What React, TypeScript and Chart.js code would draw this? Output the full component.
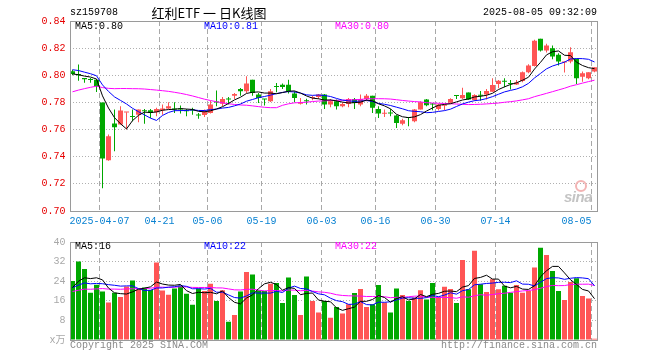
import React, { useEffect, useRef } from 'react';
import { Chart, registerables } from 'chart.js';
Chart.register(...registerables);

// ---------- DATA ----------
const dates = [
  '2025-03-28', '2025-03-31', '2025-04-01', '2025-04-02', '2025-04-03', '2025-04-07', '2025-04-08', '2025-04-09', '2025-04-10', '2025-04-11',
  '2025-04-14', '2025-04-15', '2025-04-16', '2025-04-17', '2025-04-18', '2025-04-21', '2025-04-22', '2025-04-23', '2025-04-24', '2025-04-25',
  '2025-04-28', '2025-04-29', '2025-04-30', '2025-05-06', '2025-05-07', '2025-05-08', '2025-05-09', '2025-05-12', '2025-05-13', '2025-05-14',
  '2025-05-15', '2025-05-16', '2025-05-19', '2025-05-20', '2025-05-21', '2025-05-22', '2025-05-23', '2025-05-26', '2025-05-27', '2025-05-28',
  '2025-05-29', '2025-05-30', '2025-06-03', '2025-06-04', '2025-06-05', '2025-06-06', '2025-06-09', '2025-06-10', '2025-06-11', '2025-06-12',
  '2025-06-13', '2025-06-16', '2025-06-17', '2025-06-18', '2025-06-19', '2025-06-20', '2025-06-23', '2025-06-24', '2025-06-25', '2025-06-26',
  '2025-06-27', '2025-06-30', '2025-07-01', '2025-07-02', '2025-07-03', '2025-07-04', '2025-07-07', '2025-07-08', '2025-07-09', '2025-07-10',
  '2025-07-11', '2025-07-14', '2025-07-15', '2025-07-16', '2025-07-17', '2025-07-18', '2025-07-21', '2025-07-22', '2025-07-23', '2025-07-24',
  '2025-07-25', '2025-07-28', '2025-07-29', '2025-07-30', '2025-07-31', '2025-08-01', '2025-08-04', '2025-08-05',
];

const openP = [
  0.803, 0.801, 0.798, 0.797, 0.7968, 0.780, 0.7374, 0.7645, 0.7637, 0.7725,
  0.7697, 0.771, 0.7738, 0.7742, 0.7728, 0.7742, 0.7755, 0.775, 0.775, 0.7738,
  0.7742, 0.7706, 0.7708, 0.7723, 0.7803, 0.7791, 0.7823, 0.785, 0.7899, 0.7882,
  0.7968, 0.7858, 0.7826, 0.7809, 0.7916, 0.7931, 0.7931, 0.7865, 0.7791, 0.781,
  0.7832, 0.784, 0.7858, 0.7784, 0.7809, 0.7772, 0.7789, 0.7826, 0.7784, 0.7826,
  0.785, 0.7752, 0.7716, 0.772, 0.7703, 0.7642, 0.7688, 0.7661, 0.7747, 0.7821,
  0.7785, 0.7752, 0.7775, 0.7798, 0.7848, 0.783, 0.7874, 0.7817, 0.785, 0.7859,
  0.7879, 0.7936, 0.7955, 0.7937, 0.7933, 0.7958, 0.8022, 0.8069, 0.8269, 0.8183,
  0.82, 0.8151, 0.8095, 0.8101, 0.8121, 0.799, 0.7978, 0.8027,
];
const highP = [
  0.804, 0.808, 0.798, 0.798, 0.797, 0.780, 0.7563, 0.7747, 0.7772, 0.7728,
  0.7747, 0.7747, 0.7752, 0.7752, 0.776, 0.7784, 0.7801, 0.7801, 0.7777, 0.7752,
  0.776, 0.7723, 0.7747, 0.7813, 0.7887, 0.784, 0.784, 0.787, 0.7907, 0.7993,
  0.7968, 0.787, 0.7826, 0.7899, 0.7944, 0.7939, 0.7968, 0.7882, 0.7833, 0.7828,
  0.785, 0.7863, 0.7863, 0.7826, 0.7821, 0.7801, 0.7833, 0.7833, 0.7858, 0.7863,
  0.785, 0.7772, 0.7747, 0.7752, 0.771, 0.7679, 0.7693, 0.7752, 0.7809, 0.7826,
  0.7796, 0.779, 0.7785, 0.783, 0.785, 0.7909, 0.7874, 0.786, 0.7884, 0.7899,
  0.7978, 0.7965, 0.7978, 0.7965, 0.7965, 0.8027, 0.8081, 0.8262, 0.8269, 0.8232,
  0.822, 0.8163, 0.8101, 0.8207, 0.8121, 0.8027, 0.8022, 0.8059,
];
const lowP = [
  0.800, 0.796, 0.7945, 0.7945, 0.7877, 0.7168, 0.737, 0.744, 0.7637, 0.760,
  0.7661, 0.7654, 0.7642, 0.7686, 0.7698, 0.771, 0.7752, 0.7723, 0.7718, 0.7698,
  0.771, 0.7679, 0.7693, 0.7718, 0.7772, 0.7772, 0.7784, 0.7826, 0.785, 0.787,
  0.785, 0.7796, 0.7777, 0.7804, 0.7875, 0.7899, 0.7865, 0.7801, 0.7784, 0.7784,
  0.7816, 0.7826, 0.7752, 0.7764, 0.7747, 0.7764, 0.7764, 0.7752, 0.7772, 0.7809,
  0.7723, 0.7686, 0.7693, 0.7698, 0.7612, 0.7632, 0.7625, 0.7654, 0.7747, 0.7772,
  0.7742, 0.774, 0.7743, 0.7795, 0.7825, 0.7825, 0.782, 0.7812, 0.7812, 0.7822,
  0.7879, 0.7904, 0.7911, 0.7896, 0.7928, 0.7948, 0.8015, 0.8064, 0.8175, 0.8168,
  0.8119, 0.8072, 0.802, 0.8089, 0.7936, 0.7953, 0.797, 0.8022,
];
const closeP = [
  0.801, 0.800, 0.797, 0.7965, 0.7919, 0.7387, 0.7551, 0.7617, 0.774, 0.7728,
  0.7693, 0.7747, 0.7735, 0.7723, 0.7752, 0.7755, 0.7772, 0.7747, 0.7747, 0.7735,
  0.774, 0.7703, 0.773, 0.7784, 0.780, 0.7826, 0.7821, 0.7863, 0.7882, 0.7939,
  0.787, 0.7833, 0.7821, 0.7882, 0.7914, 0.7914, 0.7882, 0.7833, 0.7801, 0.7809,
  0.7833, 0.7858, 0.7784, 0.7809, 0.7772, 0.7789, 0.7826, 0.7796, 0.7826, 0.785,
  0.776, 0.7718, 0.7718, 0.7718, 0.7649, 0.7669, 0.7686, 0.7747, 0.7801, 0.7779,
  0.7784, 0.7784, 0.778, 0.7825, 0.7847, 0.7854, 0.7822, 0.7854, 0.7849, 0.7884,
  0.7928, 0.796, 0.7953, 0.7936, 0.7946, 0.8022, 0.8072, 0.8254, 0.8183, 0.822,
  0.8138, 0.8101, 0.8096, 0.817, 0.7978, 0.8015, 0.8022, 0.8059,
];
const volume = [
  24.1, 32.0, 29.0, 19.3, 22.6, 19.8, 15.3, 19.3, 17.6, 21.8,
  24.3, 20.6, 21.4, 20.4, 31.6, 20.2, 18.5, 21.0, 22.1, 18.9,
  14.4, 21.0, 20.0, 23.0, 15.9, 20.3, 7.5, 10.2, 19.8, 27.8,
  26.7, 20.3, 20.0, 23.0, 23.3, 15.1, 25.5, 18.4, 10.2, 25.9,
  15.9, 11.2, 15.9, 9.1, 13.5, 10.8, 14.6, 19.2, 20.8, 13.5,
  14.6, 22.5, 15.3, 11.2, 21.0, 18.4, 15.9, 17.3, 20.3, 16.5,
  23.3, 17.7, 21.7, 20.8, 15.1, 32.7, 20.7, 36.4, 22.8, 19.6,
  24.8, 20.7, 22.1, 19.3, 22.5, 19.3, 20.0, 29.6, 37.7, 34.7,
  28.2, 20.0, 16.3, 23.7, 25.2, 18.0, 16.9, 0.5,
];
// estimated sessions before the visible window (needed by the moving averages)
const priorClose = [
  0.762, 0.765, 0.768, 0.766, 0.770, 0.772, 0.769, 0.771, 0.773, 0.772,
  0.776, 0.780, 0.784, 0.787, 0.789, 0.792, 0.795, 0.797, 0.801, 0.805,
  0.806, 0.809, 0.808, 0.807, 0.806, 0.803, 0.802, 0.800, 0.799,
];
const priorVolume = [
  17, 15, 21, 18, 16, 22, 19, 20, 17, 23,
  18, 21, 16, 20, 19, 22, 18, 17, 21, 20,
  22, 20, 23, 21, 21, 19, 22, 21, 20.9,
];

const xTickDates = ['2025-04-07', '2025-04-21', '2025-05-06', '2025-05-19', '2025-06-03', '2025-06-16', '2025-06-30', '2025-07-14', '2025-08-05'];
const xTickLabels = ['2025-04-07', '04-21', '05-06', '05-19', '06-03', '06-16', '06-30', '07-14', '08-05'];

const priceLegend = ['MA5:0.80', 'MA10:0.81', 'MA30:0.80'];
const volumeLegend = ['MA5:16', 'MA10:22', 'MA30:22'];

// ---------- STYLE ----------
const RED = '#ff5555';
const GREEN = '#00a800';
const MA5C = '#000000';
const MA10C = '#0000ff';
const MA30C = '#ff00ff';
const GRID = '#b0b0b0';
const FRAME = '#9a9a9a';
const MONO = '"Liberation Mono", "DejaVu Sans Mono", monospace';

function sma(prior: number[], vals: number[], n: number): number[] {
  const all = prior.concat(vals);
  const off = prior.length;
  return vals.map((_, i) => {
    let s = 0;
    for (let k = off + i - n + 1; k <= off + i; k++) s += all[k];
    return s / n;
  });
}

const framePlugin = {
  id: 'frame',
  afterDatasetsDraw(chart: any) {
    const { left, top, right, bottom } = chart.chartArea;
    const ctx = chart.ctx;
    ctx.save();
    ctx.strokeStyle = FRAME;
    ctx.lineWidth = 1;
    const l = Math.round(left);
    const t = Math.round(top);
    ctx.strokeRect(l + 0.5, t + 0.5, Math.round(right) - l - 1, Math.round(bottom) - t);
    ctx.restore();
  },
};

const xLabelPlugin = {
  id: 'xlabels',
  afterDraw(chart: any) {
    const xs = chart.scales.x;
    const ctx = chart.ctx;
    const half = (xs.getPixelForValue(1) - xs.getPixelForValue(0)) / 2;
    ctx.save();
    ctx.font = `10px ${MONO}`;
    ctx.fillStyle = '#0a82d2';
    ctx.textBaseline = 'middle';
    ctx.textAlign = 'left';
    xTickDates.forEach((d, k) => {
      const idx = dates.indexOf(d);
      const text = xTickLabels[k];
      const gx = xs.getPixelForValue(idx) - half;
      const w = ctx.measureText(text).width;
      let lx = gx - w / 2;
      const maxRight = chart.chartArea.right - 6;
      if (lx + w > maxRight) lx = maxRight - w;
      if (lx < chart.chartArea.left) lx = chart.chartArea.left;
      ctx.fillText(text, lx, chart.chartArea.bottom + 10.5);
    });
    ctx.restore();
  },
};

const tickIdxSet = new Set(xTickDates.map((d) => dates.indexOf(d)));

function xScaleOpts(height: number) {
  return {
    type: 'category' as const,
    offset: true,
    afterFit: (s: any) => { s.height = height; },
    ticks: { display: false, autoSkip: false },
    grid: {
      offset: true,
      drawTicks: false,
      lineWidth: 1,
      color: (ctx: any) => (tickIdxSet.has(ctx.index) ? '#a8a8a8' : 'rgba(0,0,0,0)'),
    },
    border: { display: false, dash: [5, 3] },
  };
}

export default function App() {
  const mainRef = useRef<HTMLCanvasElement>(null);
  const volRef = useRef<HTMLCanvasElement>(null);

  useEffect(() => {
    const colors = closeP.map((c, i) => (c > openP[i] ? RED : GREEN));
    const ma5 = sma(priorClose, closeP, 5);
    const ma10 = sma(priorClose, closeP, 10);
    const ma30 = sma(priorClose, closeP, 30);
    const vma5 = sma(priorVolume, volume, 5);
    const vma10 = sma(priorVolume, volume, 10);
    const vma30 = sma(priorVolume, volume, 30);

    const lineDs = (label: string, data: number[], color: string, order: number) => ({
      type: 'line' as const,
      label,
      data,
      borderColor: color,
      borderWidth: 1,
      pointRadius: 0,
      pointHoverRadius: 0,
      tension: 0,
      fill: false,
      order,
    });

    const main = new Chart(mainRef.current as HTMLCanvasElement, {
      type: 'bar',
      data: {
        labels: dates,
        datasets: [
          lineDs('MA5', ma5, MA5C, 0),
          lineDs('MA10', ma10, MA10C, 1),
          lineDs('MA30', ma30, MA30C, 2),
          {
            type: 'bar',
            label: 'body',
            data: openP.map((o, i) => [o, closeP[i]]),
            backgroundColor: colors,
            barThickness: 5,
            minBarLength: 1,
            grouped: false,
            inflateAmount: 0,
            borderWidth: 0,
            order: 3,
          } as any,
          {
            type: 'bar',
            label: 'wick',
            data: lowP.map((l, i) => [l, highP[i]]),
            backgroundColor: colors,
            barThickness: 1,
            grouped: false,
            inflateAmount: 0,
            borderWidth: 0,
            order: 4,
          } as any,
        ],
      },
      options: {
        responsive: false,
        animation: false,
        devicePixelRatio: 1,
        events: [],
        layout: { padding: { left: 0, right: 62.5, top: 21, bottom: 0 } },
        plugins: { legend: { display: false }, tooltip: { enabled: false }, title: { display: false } },
        scales: {
          x: xScaleOpts(21) as any,
          y: {
            min: 0.7,
            max: 0.84,
            afterFit: (s: any) => { s.width = 69.5; },
            ticks: {
              stepSize: 0.02,
              color: '#e60000',
              font: { family: MONO, size: 10 },
              padding: 4,
              callback: (v: any) => Number(v).toFixed(2),
            },
            grid: { color: GRID, drawTicks: false, lineWidth: 1 },
            border: { display: false, dash: [1, 2] },
          },
        },
      },
      plugins: [framePlugin, xLabelPlugin],
    });

    const vol = new Chart(volRef.current as HTMLCanvasElement, {
      type: 'bar',
      data: {
        labels: dates,
        datasets: [
          lineDs('MA5', vma5, MA5C, 0),
          lineDs('MA10', vma10, MA10C, 1),
          lineDs('MA30', vma30, MA30C, 2),
          {
            type: 'bar',
            label: 'volume',
            data: volume,
            backgroundColor: colors,
            barThickness: 5,
            grouped: false,
            inflateAmount: 0,
            borderWidth: 0,
            order: 3,
          } as any,
        ],
      },
      options: {
        responsive: false,
        animation: false,
        devicePixelRatio: 1,
        events: [],
        layout: { padding: { left: 0, right: 62.5, top: 9, bottom: 0 } },
        plugins: { legend: { display: false }, tooltip: { enabled: false }, title: { display: false } },
        scales: {
          x: xScaleOpts(20) as any,
          y: {
            min: 0,
            max: 40,
            afterFit: (s: any) => { s.width = 69.5; },
            ticks: {
              stepSize: 8,
              color: '#a8a8a8',
              font: { family: `${MONO}, "Noto Sans CJK SC"`, size: 10 },
              padding: 4,
              callback: (v: any) => (Number(v) === 0 ? 'x万' : String(v)),
            },
            grid: {
              drawTicks: false,
              lineWidth: 1,
              color: (ctx: any) => (ctx.tick && (ctx.tick.value === 0 || ctx.tick.value === 40) ? 'rgba(0,0,0,0)' : GRID),
            },
            border: { display: false, dash: [1, 2] },
          },
        },
      },
      plugins: [framePlugin],
    });

    return () => {
      main.destroy();
      vol.destroy();
    };
  }, []);

  const t = (s: string, left: number, top: number, color: string, extra: any = {}) => (
    <div
      style={{
        position: 'absolute',
        left,
        top,
        color,
        font: `10px ${MONO}`,
        lineHeight: '12px',
        whiteSpace: 'pre',
        ...extra,
      }}
    >
      {s}
    </div>
  );

  return (
    <div style={{ position: 'absolute', left: 0, top: 0, width: 660, height: 360, background: '#fff', overflow: 'hidden' }}>
      <canvas ref={mainRef} width={660} height={232} style={{ position: 'absolute', left: 0, top: 0 }} />
      <canvas ref={volRef} width={660} height={128} style={{ position: 'absolute', left: 0, top: 232 }} />

      {t('sz159708', 70, 7, '#000')}
      <div
        style={{
          position: 'absolute',
          left: 130,
          top: 5,
          width: 158,
          textAlign: 'center',
          font: '13px "Noto Sans CJK SC", sans-serif',
          lineHeight: '15px',
          color: '#000',
          whiteSpace: 'pre',
        }}
      >
        红利ETF 一 日K线图
      </div>
      {t('2025-08-05 09:32:09', 0, 7, '#000', { left: undefined, right: 63 })}

      {t(priceLegend[0], 75, 21, MA5C)}
      {t(priceLegend[1], 204, 21, MA10C)}
      {t(priceLegend[2], 335, 21, MA30C)}

      {t(volumeLegend[0], 75, 241, MA5C)}
      {t(volumeLegend[1], 204, 241, MA10C)}
      {t(volumeLegend[2], 335, 241, MA30C)}

      {t('Copyright 2025 SINA.COM', 70, 340, '#8a8a8a')}
      {t('http://finance.sina.com.cn', 0, 340, '#8a8a8a', { left: undefined, right: 63 })}

      <div
        style={{
          position: 'absolute',
          left: 575,
          top: 180,
          width: 8,
          height: 8,
          borderRadius: '50%',
          border: '2px solid #f3b4b4',
        }}
      />
      <div
        style={{
          position: 'absolute',
          left: 564,
          top: 189,
          font: 'italic bold 15px "Liberation Sans", sans-serif',
          lineHeight: '16px',
          color: '#c4c4c4',
          letterSpacing: '-0.5px',
        }}
      >
        sina
      </div>
    </div>
  );
}
